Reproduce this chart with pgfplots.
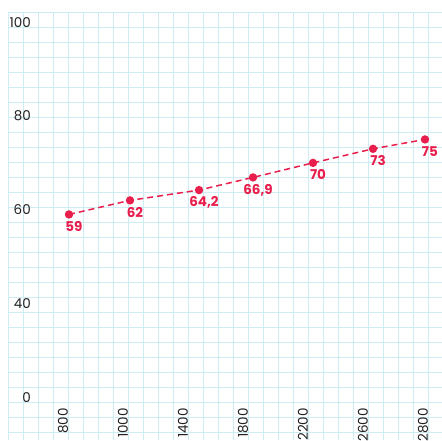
\documentclass[border=0pt]{standalone}
\usepackage{pgfplots}
\pgfplotsset{compat=1.18}
\usepackage{fontspec}
\setmainfont{Poppins}
\definecolor{crim}{RGB}{232,30,76}
\definecolor{gridc}{RGB}{206,236,243}
\definecolor{tickc}{RGB}{34,34,34}
\pgfplotstableread{
x y label
0.1 59 59
1.117 62 62
2.267 64.2 64,2
3.167 66.9 66,9
4.167 70 70
5.167 73 73
6.033 75 75
}\datatable
\begin{document}
\begin{tikzpicture}
\begin{axis}[
  x=60pt, y=4.6875pt,
  xmin=-0.9167, xmax=6.3167, ymin=10.88, ymax=102.19,
  clip=false,
  axis line style={draw=none},
  major tick length=0pt, minor tick length=0pt,
  xtick={0,1,2,3,4,5,6},
  xticklabels={800,1000,1400,1800,2200,2600,2800},
  ytick={20,40,60,80,100},
  yticklabels={0,40,60,80,100},
  minor xtick={-0.9167,-0.6667,...,6.32},
  minor ytick={12.59,15.79,...,102.2},
  xminorgrids, yminorgrids,
  minor grid style={gridc, line width=0.9pt},
  xticklabel style={rotate=90, anchor=east, inner sep=0pt, text=tickc, font=\fontsize{13.5}{13.5}\selectfont},
  xticklabel shift=-32pt,
  yticklabel style={anchor=east, inner sep=0pt, text=tickc, font=\fontsize{13.5}{13.5}\selectfont},
  yticklabel shift=-23pt,
]
\addplot[crim, line width=1.5pt, dash pattern=on 6pt off 4pt,
  mark=*, mark size=3.4pt, mark options={solid, fill=crim, draw=crim},
  nodes near coords, point meta=explicit symbolic,
  every node near coord/.append style={anchor=north, xshift=5pt, yshift=-6pt, inner sep=0pt, text=crim, font=\fontsize{13.5}{13.5}\selectfont\bfseries}]
  table[x=x, y=y, meta=label] {\datatable};
\coordinate (bl) at (rel axis cs:0,0);
\coordinate (tr) at (rel axis cs:1,1);
\end{axis}
\pgfresetboundingbox
\path ([xshift=-8pt]bl) rectangle ([yshift=12pt]tr);
\end{tikzpicture}
\end{document}
